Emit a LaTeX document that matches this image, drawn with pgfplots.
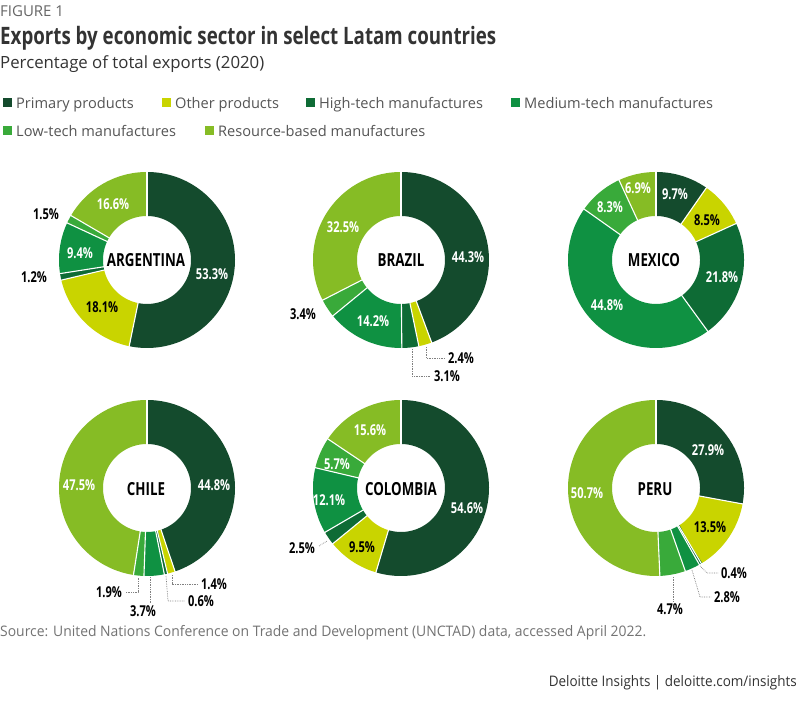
\documentclass[border=0pt]{standalone}
\usepackage{pgfplots}
\pgfplotsset{compat=1.18}
\usepackage{fontspec}
\setmainfont{Open Sans}
\newfontfamily\cond{Open Sans}[FakeStretch=0.74]
\newfontfamily\tcond{Open Sans}[FakeStretch=0.78]
\newfontfamily\condr{Open Sans}[FakeStretch=0.96]
\newfontfamily\condf{Open Sans}[FakeStretch=0.93]

\definecolor{cPrim}{HTML}{144B2D}
\definecolor{cOther}{HTML}{C9D400}
\definecolor{cHigh}{HTML}{0E6B35}
\definecolor{cMed}{HTML}{0F9142}
\definecolor{cLow}{HTML}{39AA3A}
\definecolor{cRes}{HTML}{86BC25}
\definecolor{txt}{HTML}{333333}
\definecolor{gtxt}{HTML}{555555}

% donut: #1 = centre x (px), #2 = centre y (px, from top), #3 = value/colour list
\newcommand{\donut}[3]{%
\pgfmathsetmacro\cY{703-#2}%
\begin{axis}[at={(#1pt,\cY pt)}, anchor=center, scale only axis,
  width=176pt, height=176pt, xmin=-1, xmax=1, ymin=-1, ymax=1,
  hide axis, clip=false]
  \gdef\tot{0}%
  \foreach \vv/\col in {#3}{\pgfmathsetmacro\tmpS{\tot+\vv}\xdef\tot{\tmpS}}%
  \gdef\cum{0}%
  \foreach \vv/\col in {#3}{%
    \pgfmathsetmacro\angA{90-360*(\cum/\tot)}%
    \pgfmathsetmacro\angB{90-360*((\cum+\vv)/\tot)}%
    \edef\tmp{\noexpand\addplot[draw=\col, line width=44pt, domain=\angB:\angA,
      samples=80, variable=\noexpand\t]
      ({0.75*cos(\noexpand\t)},{0.75*sin(\noexpand\t)});}%
    \tmp
    \pgfmathsetmacro\tmpS{\cum+\vv}\xdef\cum{\tmpS}%
  }%
  \gdef\cum{0}%
  \foreach \vv/\col in {#3}{%
    \pgfmathsetmacro\angA{90-360*(\cum/\tot)}%
    \pgfmathsetmacro\xi{0.49*cos(\angA)}\pgfmathsetmacro\yi{0.49*sin(\angA)}%
    \pgfmathsetmacro\xo{1.01*cos(\angA)}\pgfmathsetmacro\yo{1.01*sin(\angA)}%
    \edef\tmp{\noexpand\addplot[white, line width=1.1pt] coordinates {(\xi,\yi) (\xo,\yo)};}%
    \tmp
    \pgfmathsetmacro\tmpS{\cum+\vv}\xdef\cum{\tmpS}%
  }%
\end{axis}}

\begin{document}
\begin{tikzpicture}[x=1pt,y=1pt]
\fill[white] (0,0) rectangle (800,703);

% ---------------- donuts (Primary, Other, High, Medium, Low, Resource) ----------
\donut{147}{260}{53.3/cPrim,18.1/cOther,1.2/cHigh,9.4/cMed,1.5/cLow,16.6/cRes}
\donut{401}{260}{44.3/cPrim,2.4/cOther,3.1/cHigh,14.2/cMed,3.4/cLow,32.5/cRes}
\donut{656}{260}{9.7/cPrim,8.5/cOther,21.8/cHigh,44.8/cMed,8.3/cLow,6.9/cRes}
\donut{147}{488}{44.8/cPrim,1.4/cOther,0.6/cHigh,3.7/cMed,1.9/cLow,47.5/cRes}
\donut{401}{488}{54.6/cPrim,9.5/cOther,2.5/cHigh,12.1/cMed,5.7/cLow,15.6/cRes}
\donut{656}{488}{27.9/cPrim,13.5/cOther,0.4/cHigh,2.8/cMed,4.7/cLow,50.7/cRes}

\begin{scope}[yshift=703pt, y=-1pt,
  wl/.style={text=white, font=\cond\bfseries\fontsize{15}{15}\selectfont, inner sep=0pt},
  bl/.style={text=black, font=\cond\bfseries\fontsize{15}{15}\selectfont, inner sep=0pt},
  cn/.style={text=black, font=\cond\bfseries\fontsize{18}{18}\selectfont, inner sep=0pt},
  ld/.style={densely dotted, draw=gray, line width=0.7pt}]

% titles
\node[anchor=base west, inner sep=0pt, text=gray!80!black, font=\fontsize{15}{15}\selectfont] at (0,17) {FIGURE 1};
\node[anchor=base west, inner sep=0pt, text=txt, font=\tcond\bfseries\fontsize{24}{24}\selectfont] at (0,45) {Exports by economic sector in select Latam countries};
\node[anchor=base west, inner sep=0pt, text=txt, font=\fontsize{16.8}{16.8}\selectfont] at (0,69) {Percentage of total exports (2020)};

% legend
\foreach \mx/\col/\lab/\ly in {3/cPrim/Primary products/103, 162/cOther/Other products/103,
   306/cHigh/High-tech manufactures/103, 511/cMed/Medium-tech manufactures/103,
   3/cLow/Low-tech manufactures/131, 205/cRes/Resource-based manufactures/131}{
  \fill[\col] (\mx,\ly-4.5) rectangle (\mx+9,\ly+4.5);
  \node[anchor=base west, inner sep=0pt, text=gtxt, font=\fontsize{14.6}{14.6}\selectfont] at (\mx+13,\ly+5.3) {\lab};
}

% Argentina
\node[cn] at (146,260) {ARGENTINA};
\node[wl] at (212,274) {53.3\%};
\node[bl] at (102,307) {18.1\%};
\node[wl] at (80,253) {9.4\%};
\node[wl] at (113,204) {16.6\%};
\node[bl] at (46,214) {1.5\%};
\node[bl] at (34,277) {1.2\%};

% Brazil
\node[cn] at (401,260) {BRAZIL};
\node[wl] at (468,257) {44.3\%};
\node[wl] at (343,227) {32.5\%};
\node[wl] at (373,321) {14.2\%};
\node[bl] at (303,314) {3.4\%};
\node[bl] at (461,358) {2.4\%};
\node[bl] at (447,376) {3.1\%};
\draw[ld] (426,347) -- (426,358) -- (444,358);
\draw[ld] (412,349) -- (412,376) -- (430,376);

% Mexico
\node[cn] at (654,260) {MEXICO};
\node[wl] at (675,194) {9.7\%};
\node[bl] at (707,220) {8.5\%};
\node[wl] at (722,277) {21.8\%};
\node[wl] at (607,305) {44.8\%};
\node[wl] at (610,207) {8.3\%};
\node[wl] at (638,188) {6.9\%};

% Chile
\node[cn] at (146,489) {CHILE};
\node[wl] at (214,485) {44.8\%};
\node[wl] at (79,485) {47.5\%};
\node[bl] at (214,584) {1.4\%};
\node[bl] at (201,601) {0.6\%};
\node[bl] at (109,592) {1.9\%};
\node[bl] at (143,611) {3.7\%};
\draw[ld] (172,575) -- (172,584) -- (198,584);
\draw[ld] (166,576) -- (168,601) -- (185,601);
\draw[ld] (126,592) -- (138,592) -- (138,577);
\draw[ld] (150,577) -- (150,603);

% Colombia
\node[cn] at (401,489) {COLOMBIA};
\node[wl] at (467,508) {54.6\%};
\node[bl] at (362,547) {9.5\%};
\node[wl] at (329,500) {12.1\%};
\node[wl] at (337,464) {5.7\%};
\node[wl] at (370,430) {15.6\%};
\node[bl] at (302,548) {2.5\%};
\draw[ld] (319,546) -- (327,541);

% Peru
\node[cn] at (655,489) {PERU};
\node[wl] at (708,450) {27.9\%};
\node[bl] at (710,527) {13.5\%};
\node[wl] at (587,493) {50.7\%};
\node[bl] at (734,573) {0.4\%};
\node[bl] at (727,597) {2.8\%};
\node[bl] at (670,609) {4.7\%};
\draw[ld] (700,566) -- (707,573) -- (719,573);
\draw[ld] (692,570) -- (700,597) -- (711,597);
\draw[ld] (673,577) -- (673,601);

% source / footer
\node[anchor=base west, inner sep=0pt, text=gray!90!black, font=\condr\fontsize{14.5}{14.5}\selectfont] at (0,637) {Source: United Nations Conference on Trade and Development (UNCTAD) data, accessed April 2022.};
\node[anchor=base east, inner sep=0pt, text=txt, font=\condf\fontsize{14.5}{14.5}\selectfont] at (797,687) {Deloitte Insights | deloitte.com/insights};
\end{scope}
\end{tikzpicture}
\end{document}
